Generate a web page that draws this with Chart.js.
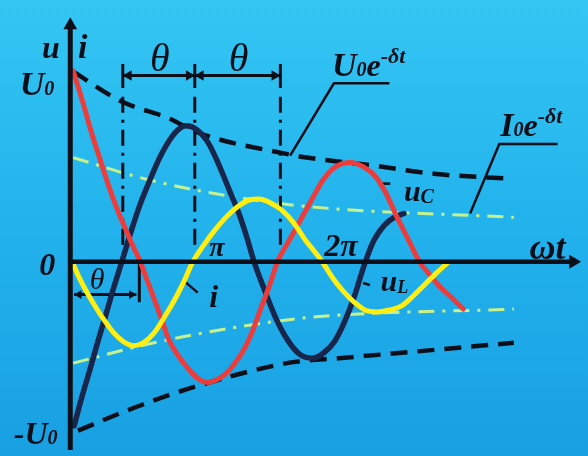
<!DOCTYPE html>
<html><head><meta charset="utf-8">
<script src="https://cdn.jsdelivr.net/npm/chart.js@4/dist/chart.umd.min.js"></script>
<style>html,body{margin:0;padding:0;background:#22b0ea;}canvas{display:block}</style>
</head><body>
<canvas id="c" width="588" height="456"></canvas>
<script>
// data coordinates: x = ωt axis units, y = u/i units (origin at the axes crossing)
const redUc = [[3,198],[13,165],[23,130],[31,105],[39,80],[48,55],[58,31],[65,15],[72,0],[79,-19],[86,-38],[94,-60],[101,-80],[110,-96],[119,-108],[130,-120],[141,-125],[151,-122],[160,-116],[170,-104],[179,-90],[188,-70],[196,-48],[205,-24],[213,0],[225,22],[236,42],[248,64],[260,85],[272,98],[288,103],[302,98],[314,88],[324,72],[336,46],[348,22],[359,0],[370,-14],[381,-27],[393,-38],[404,-49]];
const darkI = [[4,-170],[12,-140],[21,-109],[28,-84],[36,-57],[44,-29],[53,0],[63,33],[72,60],[82,85],[92,108],[102,126],[111,137],[119,141],[130,137],[142,123],[153,100],[164,73],[173,51],[181,27],[189,0],[200,-30],[212,-60],[224,-82],[236,-96],[249,-100],[261,-94],[272,-82],[282,-62],[292,-36],[302,-4],[312,22],[323,38],[333,46],[343,50]];
const yellowUl = [[2,0],[10,-18],[19,-35],[28,-50],[36,-62],[45,-74],[55,-83],[65,-87],[75,-84],[86,-74],[97,-57],[108,-38],[117,-20],[126,0],[137,17],[148,32],[160,46],[172,57],[184,64],[194,65],[206,61],[218,53],[230,40],[242,22],[250,12],[259,0],[270,-17],[281,-31],[292,-42],[303,-50],[315,-52],[328,-50],[340,-46],[352,-36],[364,-24],[376,-12],[388,-1]];
const envUpper = [[3,197],[53,166],[103,148],[128,135],[226,111],[243,108],[309,100],[376,91],[453,86]];
const envLower = [[8,-175],[69,-150],[136,-127],[229,-104],[276,-100],[456,-84]];
const greenUpper = [[3,108],[69,88],[136,73],[236,58],[456,46]];
const greenLower = [[3,-105],[86,-84],[176,-67],[253,-57],[456,-49]];
const thetaMarks = [54,128,216];   // vertical dash-dot lines
const thetaLower = [4,71];
const F = 'bold italic {s}px "Liberation Serif"';
const labels = [
  {x:-29, y:211, parts:[['u',32,0]]},
  {x:8, y:211, parts:[['i',34,0]]},
  {x:-52, y:173, parts:[['U',34,0],['0',20,0]]},
  {x:-32, y:-14, parts:[['0',32,0]]},
  {x:-58, y:-189, parts:[['-U',32,0],['0',20,0]]},
  {x:472, y:3, parts:[['ωt',36,0]]},
  {x:143, y:6, parts:[['π',28,0]]},
  {x:261, y:6, parts:[['2π',32,0]]},
  {x:343, y:63, parts:[['u',30,0],['C',20,2]]},
  {x:319, y:-30, parts:[['u',30,0],['L',18,2]]},
  {x:143, y:-47, parts:[['i',32,0]]},
  {x:82, y:198, parts:[['θ',40,0]], it:true},
  {x:163, y:198, parts:[['θ',40,0]], it:true},
  {x:20, y:-28, parts:[['θ',30,0]], it:true},
  {x:269, y:193, parts:[['U',34,0],['0',20,0],['e',32,0],['-δt',22,-13]]},
  {x:442, y:130, parts:[['I',34,0],['0',20,0],['e',32,0],['-δt',22,-13]]}
];

const P = a => a.map(p => ({x:p[0], y:p[1]}));
const BLACK = '#0b0f1a';
function seg(pts, opts){ return Object.assign({data:P(pts), showLine:true, pointRadius:0, borderColor:BLACK, borderWidth:2.5, fill:false, order:4, clip:false}, opts||{}); }
const curve = {cubicInterpolationMode:'monotone', borderCapStyle:'round', borderJoinStyle:'round'};

const datasets = [
  seg(yellowUl,Object.assign({borderColor:'#ffee10', borderWidth:5, order:1}, curve)),
  seg(redUc,Object.assign({borderColor:'#ec3c3c', borderWidth:5, order:2}, curve)),
  seg(darkI,Object.assign({borderColor:'#17264a', borderWidth:5.5, order:3}, curve)),
  seg(envUpper,{borderWidth:4.5, borderDash:[17,10], cubicInterpolationMode:'monotone', order:5}),
  seg(envLower,{borderWidth:4.5, borderDash:[17,10], cubicInterpolationMode:'monotone', order:5}),
  seg(greenUpper,{borderColor:'#c6f28e', borderWidth:3, borderDash:[16,8,3,8], cubicInterpolationMode:'monotone', order:5}),
  seg(greenLower,{borderColor:'#c6f28e', borderWidth:3, borderDash:[16,8,3,8], cubicInterpolationMode:'monotone', order:5}),
  // axes
  seg([[0,-195],[0,243]],{borderWidth:5, order:0}),
  seg([[0,0],[516,0]],{borderWidth:4.5, order:0}),
  {data:[{x:0,y:245},{x:517,y:0}], pointStyle:'triangle', pointRadius:8, pointRotation:[0,90], backgroundColor:BLACK, borderColor:BLACK, borderWidth:0, showLine:false, order:0, clip:false},
  // theta marks
  ...thetaMarks.map(x => seg([[x,205],[x,180]],{borderWidth:3})),
  ...thetaMarks.map(x => seg([[x,171],[x,15]],{borderWidth:3, borderDash:[16,7,3,7]})),
  seg([[thetaMarks[0],193],[thetaMarks[2],193]],{borderWidth:3}),
  {data:[{x:thetaMarks[0]+6,y:193},{x:thetaMarks[1]-6,y:193},{x:thetaMarks[1]+6,y:193},{x:thetaMarks[2]-6,y:193}], pointStyle:'triangle', pointRadius:6, pointRotation:[270,90,270,90], backgroundColor:BLACK, borderColor:BLACK, borderWidth:0, showLine:false, order:4, clip:false},
  seg([[thetaLower[0],-34],[thetaLower[1]-3,-34]],{borderWidth:3}),
  seg([[thetaLower[1],0],[thetaLower[1],-42]],{borderWidth:3}),
  {data:[{x:thetaLower[0]+5,y:-34},{x:thetaLower[1]-8,y:-34}], pointStyle:'triangle', pointRadius:5, pointRotation:[270,90], backgroundColor:BLACK, borderColor:BLACK, borderWidth:0, showLine:false, order:4, clip:false},
  // leaders
  seg([[328,185],[271,185],[226,110]],{borderWidth:2.5}),
  seg([[501,122],[441,122],[411,50]],{borderWidth:2.5}),
  seg([[116,-19],[131,-32]],{borderWidth:2.5}),
  seg([[319,81],[329,81]],{borderWidth:2.5}),
  seg([[301,-22],[308,-24]],{borderWidth:2.5})
];

const bg = {id:'bg', beforeDraw(c){const g=c.ctx, gr=g.createLinearGradient(0,0,0,c.height); gr.addColorStop(0,'#34c6f3'); gr.addColorStop(0.5,'#22b2ec'); gr.addColorStop(1,'#18a0e2'); g.save(); g.fillStyle=gr; g.fillRect(0,0,c.width,c.height); g.restore();}};
const txt = {id:'txt', afterDraw(c){const g=c.ctx, sx=c.scales.x, sy=c.scales.y; g.save(); g.fillStyle=BLACK; g.textBaseline='alphabetic'; g.textAlign='left';
  labels.forEach(l=>{let px=sx.getPixelForValue(l.x); const py=sy.getPixelForValue(l.y);
    l.parts.forEach(([t,s,dy])=>{g.font=(l.it?'italic {s}px "Liberation Serif"':F).replace('{s}',s); g.fillText(t,px,py+dy); px+=g.measureText(t).width;});});
  g.restore();}};

new Chart(document.getElementById('c'), {
  type:'scatter',
  data:{datasets},
  options:{responsive:false, animation:false, events:[],
    layout:{padding:0},
    plugins:{legend:{display:false}, tooltip:{enabled:false}},
    scales:{x:{type:'linear', min:-64, max:524, display:false}, y:{type:'linear', min:-193, max:263, display:false}}
  },
  plugins:[bg, txt]
});
</script>
</body></html>
